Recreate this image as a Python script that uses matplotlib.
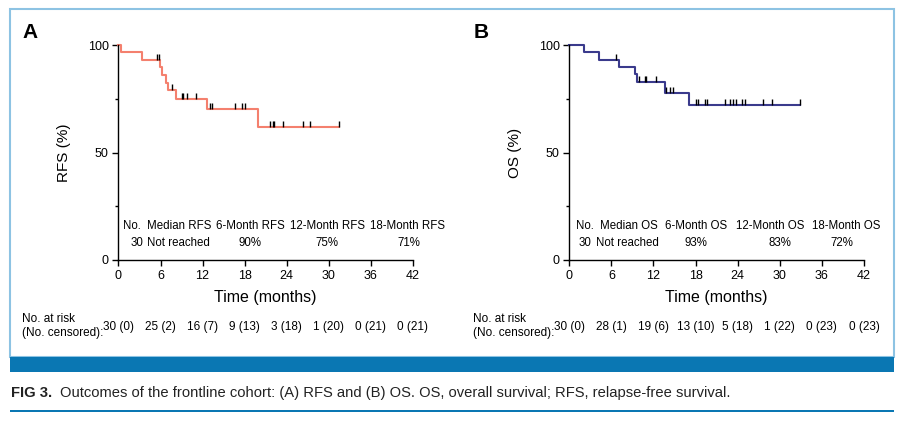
import numpy as np
import matplotlib.pyplot as plt
from matplotlib.patches import Rectangle
from matplotlib.path import Path
from matplotlib.ticker import MultipleLocator

plt.rcParams['font.family'] = ['Liberation Sans', 'DejaVu Sans']

# Panel A - RFS
rfs_event_t = [0.3, 3.35, 5.9, 6.2, 6.8, 7.1, 8.2, 12.7, 19.9]
rfs_surv = [96.7, 93.3, 89.8, 86.2, 82.6, 79.0, 75.1, 70.4, 61.8]
rfs_cens_t = [5.5, 5.8, 7.6, 9.0, 9.2, 9.8, 11.1, 13.1, 13.3, 16.7, 17.7,
              18.1, 21.6, 22.1, 22.2, 23.5, 26.4, 27.4, 31.5]
rfs_end = 31.5
rfs_risk = ['30 (0)', '25 (2)', '16 (7)', '9 (13)', '3 (18)', '1 (20)', '0 (21)', '0 (21)']
rfs_head = ['No.', 'Median RFS', '6-Month RFS', '12-Month RFS', '18-Month RFS']
rfs_vals = ['30', 'Not reached', '90%', '75%', '71%']

# Panel B - OS
os_event_t = [2.1, 4.3, 7.1, 9.3, 9.6, 13.7, 17.1]
os_surv = [96.7, 93.3, 90.0, 86.4, 82.9, 78.0, 72.3]
os_cens_t = [6.6, 10.0, 10.8, 11.0, 12.3, 13.8, 14.4, 14.8, 18.1, 18.4, 19.3,
             19.6, 22.2, 22.9, 23.4, 23.8, 24.6, 25.0, 27.6, 28.9, 32.9]
os_end = 32.9
os_risk = ['30 (0)', '28 (1)', '19 (6)', '13 (10)', '5 (18)', '1 (22)', '0 (23)', '0 (23)']
os_head = ['No.', 'Median OS', '6-Month OS', '12-Month OS', '18-Month OS']
os_vals = ['30', 'Not reached', '93%', '83%', '72%']

risk_t = [0, 6, 12, 18, 24, 30, 36, 42]

W, H = 903, 421
fig = plt.figure(figsize=(W / 100, H / 100), dpi=100)

def fx(x):
    return x / W

def fy(y):
    return 1 - y / H

# frame, blue bar and caption rule
fig.patches.append(Rectangle((fx(10), fy(357)), fx(894) - fx(10), fy(9) - fy(357),
                             transform=fig.transFigure, fill=False,
                             edgecolor='#8DC3E3', lw=1.5))
fig.patches.append(Rectangle((fx(10), fy(372)), fx(894) - fx(10), fy(357) - fy(372),
                             transform=fig.transFigure, color='#0A77B3', lw=0))
fig.patches.append(Rectangle((fx(10), fy(412)), fx(894) - fx(10), fy(410) - fy(412),
                             transform=fig.transFigure, color='#0A77B3', lw=0))

fig.text(fx(11), fy(393), 'FIG 3.', fontsize=10.6, weight='bold',
         va='center', ha='left', color='#222222')
fig.text(fx(60), fy(393), 'Outcomes of the frontline cohort: (A) RFS and (B) OS. OS, overall '
         'survival; RFS, relapse-free survival.', fontsize=10.6,
         va='center', ha='left', color='#222222')

# tick going up from the point
cens_marker = Path([(0, 0), (0, 1)])


def panel(x0, x1, letter, ev_t, surv, cens_t, t_end, color, ylab, head, vals,
          head_x, head_ha, risk):
    ax = fig.add_axes([fx(x0), fy(260), fx(x1) - fx(x0), fy(45.3) - fy(260)])
    t = [0] + ev_t + [t_end]
    s = [100] + surv + [surv[-1]]
    ax.plot(t, s, drawstyle='steps-post', color=color, lw=1.5, clip_on=False)
    idx = np.searchsorted(ev_t, cens_t, side='right')
    cy = np.array([100] + surv)[idx]
    ax.plot(cens_t, cy, ls='none', marker=cens_marker, ms=8, mew=1, color='black',
            clip_on=False)

    ax.set_xlim(0, 42)
    ax.set_ylim(0, 100)
    ax.xaxis.set_major_locator(MultipleLocator(6))
    ax.set_yticks([0, 50, 100])
    ax.yaxis.set_minor_locator(MultipleLocator(25))
    for side in ['top', 'right']:
        ax.spines[side].set_visible(False)
    for side in ['left', 'bottom']:
        ax.spines[side].set_linewidth(1)
    ax.tick_params(which='major', length=4, width=1, labelsize=9, pad=3)
    ax.tick_params(which='minor', length=2, width=1)
    ax.set_xlabel('Time (months)', fontsize=11.5, labelpad=6)
    ax.set_ylabel(ylab, fontsize=11, labelpad=12)

    for txt, hx, ha in zip(head, head_x, head_ha):
        ax.text(hx[0], 0.158, txt, transform=ax.get_xaxis_transform(),
                ha='left' if ha == 'l' else 'center',
                va='center', fontsize=8.3, clip_on=False)
    for i, (txt, hx, ha) in enumerate(zip(vals, head_x, head_ha)):
        align = 'right' if i == 0 else {'l': 'left', 'c': 'center'}[ha]
        ax.text(hx[1], 0.079, txt, transform=ax.get_xaxis_transform(), ha=align,
                va='center', fontsize=8.3, clip_on=False)

    for rt, txt in zip(risk_t, risk):
        ax.text(rt, -0.312, txt, transform=ax.get_xaxis_transform(), ha='center',
                va='center', fontsize=8.5, clip_on=False)
    fig.text(fx(x0 - 96), fy(319), 'No. at risk', fontsize=8.5, va='center', ha='left')
    fig.text(fx(x0 - 96), fy(333), '(No. censored):', fontsize=8.5, va='center', ha='left')
    fig.text(fx(x0 - 96), fy(33), letter, fontsize=15, weight='bold', va='center', ha='left')
    return ax


panel(118.5, 412.7, 'A', rfs_event_t, rfs_surv, rfs_cens_t, rfs_end, '#F4806E', 'RFS (%)',
      rfs_head, rfs_vals,
      [(0.67, 3.5), (4.1, 4.1), (18.8, 18.8), (29.8, 29.8), (41.3, 41.4)],
      ['l', 'l', 'c', 'c', 'c'], rfs_risk)
panel(569.3, 864, 'B', os_event_t, os_surv, os_cens_t, os_end, '#3A3A8C', 'OS (%)',
      os_head, os_vals,
      [(0.96, 3.2), (4.4, 3.8), (18.0, 18.0), (28.6, 30.0), (39.5, 38.9)],
      ['l', 'l', 'c', 'c', 'c'], os_risk)

fig.savefig('out.png', dpi=100)
